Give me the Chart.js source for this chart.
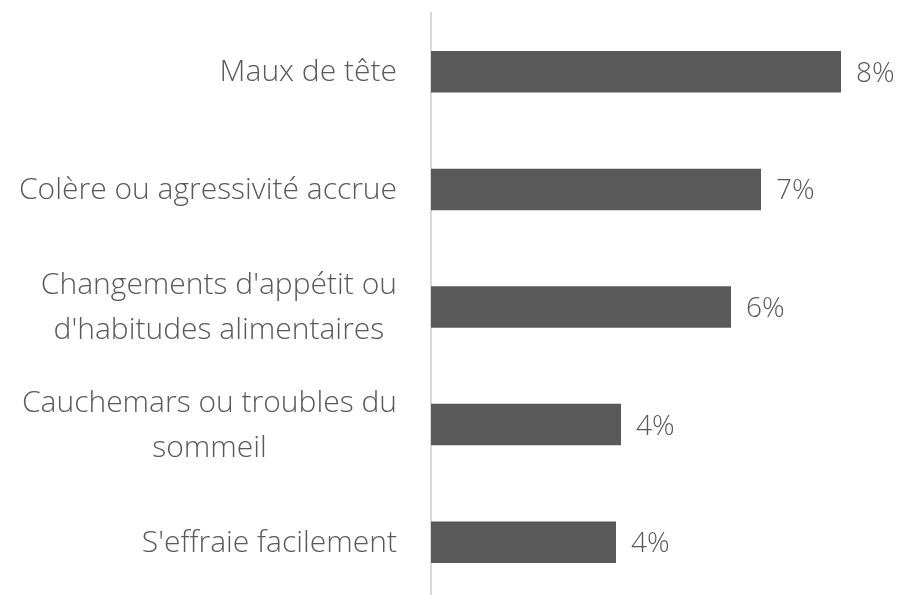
<!DOCTYPE html>
<html lang="fr">
<head>
<meta charset="utf-8">
<title>Symptômes</title>
<script src="https://cdn.jsdelivr.net/npm/chart.js@4/dist/chart.umd.min.js"></script>
<style>
  html, body { margin: 0; padding: 0; background: #fff; }
  #wrap { width: 899px; height: 595px; overflow: hidden; position: relative; }
  #wrap canvas { display: block; }
</style>
</head>
<body>
<div id="wrap"><canvas id="chart" width="899" height="601"></canvas></div>
<script>
// ── données
const categories = [
  ['Maux de tête'],
  ['Colère ou agressivité accrue'],
  ["Changements d'appétit ou", "d'habitudes alimentaires"],
  ['Cauchemars ou troubles du', 'sommeil'],
  ["S'effraie facilement"],
];
const values = [8.2, 6.6, 6.0, 3.8, 3.7];

const FONT = "'Segoe UI Light', 'Segoe UI', 'Open Sans', Lato, sans-serif";
const TXT = '#595959';

// ── étiquettes catégories (centrées par bloc, bloc aligné à droite) + valeurs
const labelPlugin = {
  id: 'labelPlugin',
  afterDatasetsDraw(chart) {
    const { ctx, scales: { y } } = chart;
    ctx.save();
    ctx.font = `300 30px ${FONT}`;
    ctx.fillStyle = TXT;
    ctx.textBaseline = 'middle';
    ctx.textAlign = 'center';
    const rightEdge = 397, lh = 45;
    categories.forEach((lines, i) => {
      const cy = y.getPixelForValue(i) + 1;
      const maxW = Math.max(...lines.map(l => ctx.measureText(l).width));
      const cx = rightEdge - maxW / 2;
      const top = cy - (lines.length - 1) * lh / 2;
      lines.forEach((l, k) => ctx.fillText(l, cx, top + k * lh));
    });

    // valeurs à droite des barres
    ctx.font = `300 28px ${FONT}`;
    ctx.textAlign = 'left';
    chart.getDatasetMeta(0).data.forEach((bar, i) => {
      ctx.fillText(Math.round(values[i]) + '%', bar.x + 15, bar.y + 2);
    });
    ctx.restore();
  }
};

new Chart(document.getElementById('chart'), {
  type: 'bar',
  data: {
    labels: categories,
    datasets: [{
      data: values,
      backgroundColor: '#595959',
      borderWidth: 0,
      barPercentage: 0.353,
      categoryPercentage: 1,
    }]
  },
  options: {
    indexAxis: 'y',
    responsive: false,
    animation: false,
    layout: { padding: { top: 13, right: 18, bottom: 0, left: 0 } },
    plugins: { legend: { display: false }, tooltip: { enabled: false } },
    scales: {
      x: { display: false, min: 0, max: 9 },
      y: {
        grid: { display: false, drawTicks: false },
        border: { display: true, color: '#d9d9d9', width: 2 },
        ticks: { display: false },
        afterFit: s => { s.width = 431; },
      }
    }
  },
  plugins: [labelPlugin]
});
</script>
</body>
</html>
